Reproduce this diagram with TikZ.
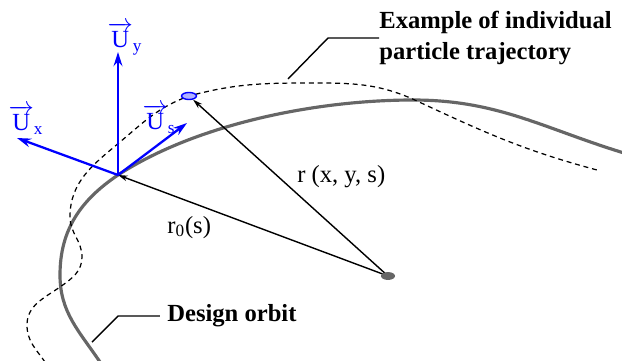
\documentclass[tikz,border=0pt]{standalone}
\usepackage{amsmath}
\usepackage{fontspec}
\setmainfont{Liberation Serif}
\usepackage{tikz}
\usetikzlibrary{shapes.geometric, arrows.meta, positioning, calc}

\begin{document}
\begin{tikzpicture}[
  x=0.02cm, y=0.02cm,
  font=\fontsize{14}{18}\selectfont,
  lbl/.style={inner sep=0pt, align=left, font=\fontsize{14}{18}\selectfont\bfseries},
  vec/.style={blue, line width=1.3pt, -{Stealth[length=8pt, width=5pt]}},
  ar/.style={line width=0.8pt, -{Stealth[length=5.5pt, width=3.2pt]}},
  ldr/.style={line width=0.8pt},
  orb/.style={black!60, line width=1.8pt},
  trj/.style={line width=0.7pt, dash pattern=on 2.8pt off 2.2pt},
  ptcl/.style={ellipse, draw=blue, fill=blue!30, line width=0.8pt,
               minimum width=8.5pt, minimum height=4pt, inner sep=0pt},
  cdot/.style={ellipse, fill=black!60, minimum width=8pt,
               minimum height=4.5pt, inner sep=0pt}
]
\useasboundingbox (0,0) rectangle (622,360);
\clip (0,0) rectangle (622,360);
% design orbit
\draw[orb] (100,-2) to[out=124,in=-90] (60,85) to[out=90,in=-146] (118,185)
  to[out=33,in=180,looseness=0.8] (413,260) to[out=0,in=163] (624,207);
% particle trajectory
\draw[trj] (45,-2) to[out=125,in=-90] (27,35) to[out=90,in=-145] (60,73)
  to[out=35,in=-90] (82,103) to[out=90,in=-90] (70,143)
  to[out=90,in=-140] (120,218) to[out=40,in=-160] (189,264)
  to[out=15,in=180] (310,277) to[out=0,in=155] (417,259)
  to[out=-25,in=165] (597,190);
\node[ptcl] (ptc) at (189,264) {};
\coordinate (org) at (118,185);
\coordinate (ctr) at (388,84);
% position vectors
\draw[ar] (ctr) -- (ptc);
\draw[ar] (ctr) -- (org);
\node[cdot] (ctrdot) at (ctr) {};
\node[anchor=base west, inner sep=0pt] (rxys) at (297,178) {r (x, y, s)};
\node[anchor=base west, inner sep=0pt] (rzero) at (167,127) {r\textsubscript{0}(s)};
% local frame
\coordinate (uxe) at (17,222);
\coordinate (uye) at (118,308);
\coordinate (use) at (187,237);
\draw[vec] (org) -- (uxe);
\draw[vec] (org) -- (uye);
\draw[vec] (org) -- (use);
\node[blue, inner sep=0pt] (uxl) at (26,240) {$\overrightarrow{\text{U}}_{\text{x}}$};
\node[blue, inner sep=0pt] (uyl) at (125,321) {$\overrightarrow{\text{U}}_{\text{y}}$};
\node[blue, inner sep=0pt] (usl) at (159,241) {$\overrightarrow{\text{U}}_{\text{s}}$};
% callouts
\node[lbl, anchor=west] (exl) at (379,322) {Example of individual\\particle trajectory};
\coordinate (trjpt) at (288,281);
\coordinate (trjkn) at (328,322);
\draw[ldr] (trjpt) -- (trjkn) -- (trjkn -| exl.west);
\node[lbl, anchor=west] (dol) at (167,44) {Design orbit};
\coordinate (orbpt) at (92,18);
\coordinate (orbkn) at (118,44);
\draw[ldr] (orbpt) -- (orbkn) -- ([xshift=-4pt]dol.west);
\end{tikzpicture}
\end{document}
